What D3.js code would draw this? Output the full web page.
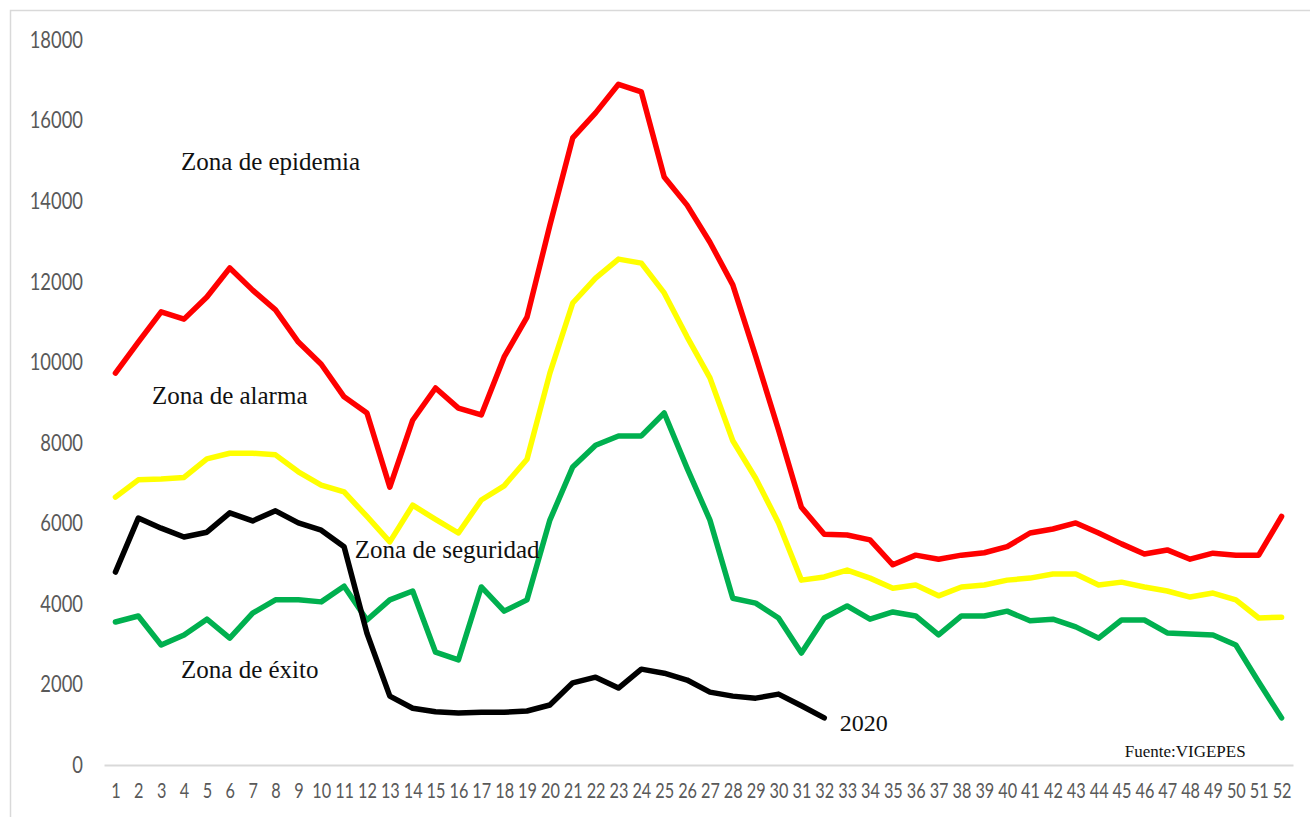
<!DOCTYPE html>
<html lang="es">
<head>
    <meta charset="UTF-8">
    <title>Canal endémico</title>
    <style>
        body {
            margin: 0;
            padding: 0;
            background-color: #fff;
            overflow: hidden;
        }
        .tick text {
            font-family: Lato, "Open Sans", sans-serif;
            fill: #595959;
        }
        .zone-label {
            font-family: "Liberation Serif", "DejaVu Serif", serif;
            fill: #111;
        }
    </style>
</head>
<body>
    <div id="chart"></div>

    <script src="https://d3js.org/d3.v7.min.js"></script>
    <script>
        // semanas epidemiologicas 1..52
        const weeks = d3.range(1, 53);

        // Zona de epidemia (limite superior)
        const epidemia = [9730, 10500, 11250, 11070, 11620, 12340, 11790, 11300, 10500, 9950,
            9140, 8740, 6900, 8560, 9360, 8860, 8690, 10130, 11120, 13400,
            15570, 16190, 16900, 16710, 14600, 13900, 12980, 11920, 10150, 8320,
            6400, 5730, 5710, 5590, 4970, 5210, 5110, 5210, 5270, 5420,
            5760, 5860, 6010, 5760, 5490, 5240, 5340, 5110, 5260, 5210,
            5210, 6170];

        // Zona de alarma
        const alarma = [6650, 7080, 7100, 7140, 7600, 7740, 7740, 7700, 7280, 6950,
            6780, 6170, 5540, 6450, 6100, 5760, 6580, 6930, 7590, 9730,
            11470, 12090, 12560, 12460, 11720, 10630, 9610, 8050, 7120, 6010,
            4590, 4670, 4840, 4640, 4390, 4470, 4200, 4420, 4470, 4590,
            4640, 4740, 4740, 4470, 4540, 4420, 4320, 4170, 4270, 4100,
            3650, 3670];

        // Zona de seguridad
        const seguridad = [3550, 3700, 2980, 3230, 3620, 3150, 3770, 4100, 4100, 4050,
            4440, 3600, 4100, 4320, 2800, 2610, 4420, 3820, 4100, 6080,
            7400, 7940, 8170, 8170, 8740, 7370, 6080, 4140, 4020, 3650,
            2780, 3650, 3950, 3620, 3800, 3700, 3230, 3700, 3700, 3820,
            3580, 3620, 3430, 3150, 3600, 3600, 3280, 3250, 3230, 2980,
            2060, 1170];

        // casos 2020 (semanas 1..32)
        const casos2020 = [4790, 6130, 5880, 5660, 5780, 6260, 6060, 6310, 6010, 5830,
            5420, 3270, 1710, 1410, 1320, 1290, 1310, 1310, 1340, 1490,
            2040, 2180, 1910, 2380, 2280, 2110, 1810, 1710, 1660, 1760,
            1470, 1170];

        const yTicks = [0, 2000, 4000, 6000, 8000, 10000, 12000, 14000, 16000, 18000];

        // etiquetas dentro del grafico (semana, valor)
        const zoneLabels = [
            { text: "Zona de epidemia", week: 3.87, value: 14770, size: 25 },
            { text: "Zona de alarma", week: 2.6, value: 8960, size: 25 },
            { text: "Zona de seguridad", week: 11.47, value: 5140, size: 25 },
            { text: "Zona de éxito", week: 3.87, value: 2160, size: 25 },
            { text: "2020", week: 32.68, value: 845, size: 24 },
            { text: "Fuente:VIGEPES", week: 45.14, value: 200, size: 17 }
        ];

        const width = 1310;
        const height = 817;

        const svg = d3.select('#chart')
            .append('svg')
            .attr('width', width)
            .attr('height', height);

        // marco del grafico
        svg.append('rect')
            .attr('x', 10.5)
            .attr('y', 10.5)
            .attr('width', width)
            .attr('height', height)
            .attr('fill', 'none')
            .attr('stroke', '#d9d9d9')
            .attr('stroke-width', 1.5);

        const x = d3.scaleLinear().domain([0.5, 52.5]).range([104, 1293]);
        const y = d3.scaleLinear().domain([0, 18000]).range([765, 40]);

        // eje Y (sin linea)
        const yAxis = svg.append('g')
            .attr('transform', 'translate(104,0)')
            .call(d3.axisLeft(y).tickValues(yTicks).tickSize(0).tickPadding(0).tickFormat(d3.format('d')));
        yAxis.select('.domain').remove();
        yAxis.selectAll('text')
            .attr('font-size', 23)
            .attr('x', -21 / 0.8)
            .attr('transform', 'scale(0.8,1)');

        // eje X
        const xAxis = svg.append('g')
            .attr('transform', `translate(0,${y(0)})`)
            .call(d3.axisBottom(x).tickValues(weeks).tickSize(0).tickPadding(17).tickFormat(d3.format('d')));
        xAxis.select('.domain')
            .attr('stroke', '#d9d9d9')
            .attr('stroke-width', 2);
        xAxis.selectAll('text')
            .attr('font-size', 22)
            .attr('transform', 'scale(0.74,1)');

        const line = d3.line()
            .x((d, i) => x(weeks[i]))
            .y(d => y(d));

        const series = [
            { values: epidemia, color: '#ff0000' },
            { values: alarma, color: '#ffff00' },
            { values: seguridad, color: '#00b04f' },
            { values: casos2020, color: '#000000' }
        ];

        svg.append('g')
            .selectAll('path')
            .data(series)
            .enter().append('path')
            .attr('d', d => line(d.values))
            .attr('fill', 'none')
            .attr('stroke', d => d.color)
            .attr('stroke-width', 5.5)
            .attr('stroke-linejoin', 'round')
            .attr('stroke-linecap', 'round');

        svg.append('g')
            .selectAll('text')
            .data(zoneLabels)
            .enter().append('text')
            .attr('class', 'zone-label')
            .attr('x', d => x(d.week))
            .attr('y', d => y(d.value))
            .attr('font-size', d => d.size)
            .text(d => d.text);
    </script>
</body>
</html>
